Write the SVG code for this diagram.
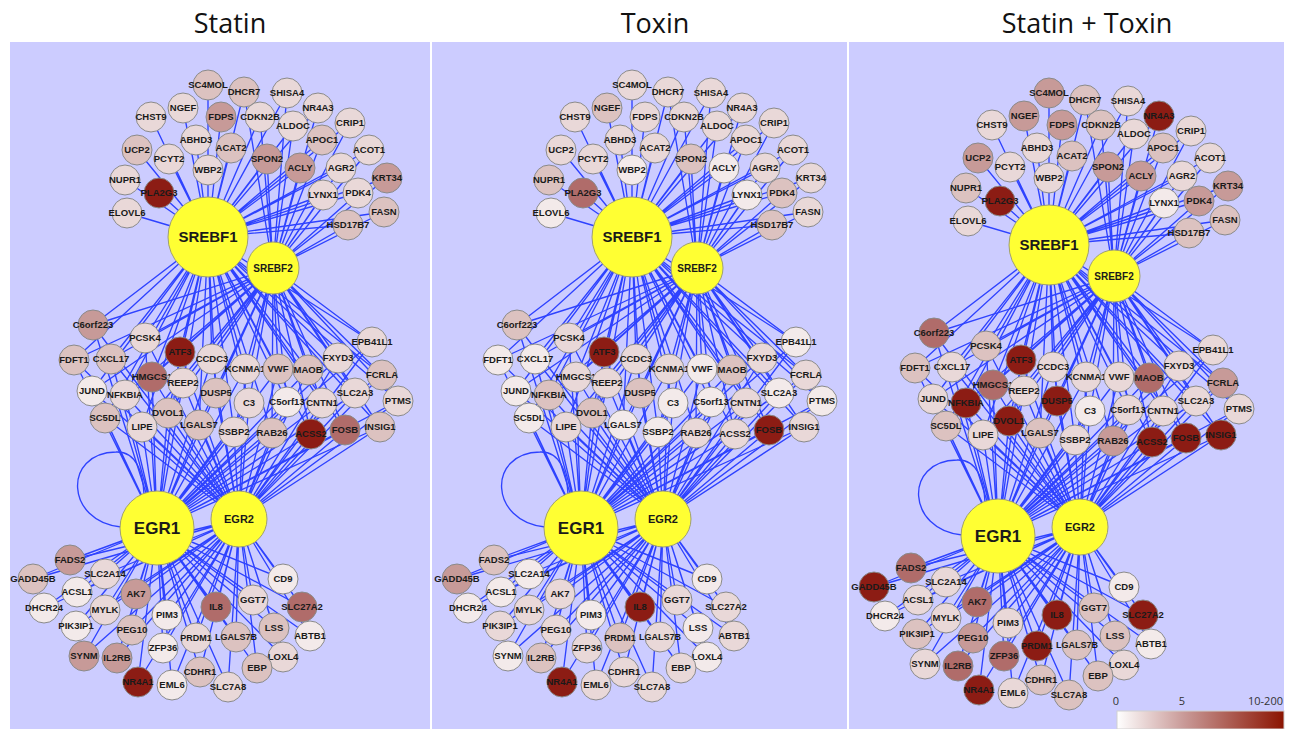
<svg xmlns="http://www.w3.org/2000/svg" xmlns:xlink="http://www.w3.org/1999/xlink" width="1294" height="729" viewBox="0 0 1294 729">
<style>
.bg{fill:#ccccff}
.ttl{font-family:"Open Sans","Noto Sans",sans-serif;font-size:27px;fill:#111;text-anchor:middle}
.nodes circle{stroke:#8a8a8a;stroke-width:1}
.nodes text{font-family:"Liberation Sans",Arial,sans-serif;font-weight:bold;font-size:9.5px;fill:#1a1a1a;text-anchor:middle}
.nodes text.sm{font-size:9px}
.c0{fill:#f3eaea}.c1{fill:#e9d8d8}.c2{fill:#dcc2c0}.c3{fill:#c79a98}.c4{fill:#b06c6a}.c5{fill:#8c1c14}
.nodes .hub{fill:#ffff33;stroke:#a0a070}
.nodes text.h14{font-size:15px}.nodes text.h10{font-size:10px}.nodes text.h16{font-size:17px}.nodes text.h11{font-size:11px}
.lgt{font-family:"Open Sans","Noto Sans",sans-serif;font-size:11px;fill:#333}
</style>
<defs>
<linearGradient id="lg" x1="0" y1="0" x2="1" y2="0">
<stop offset="0" stop-color="#ffffff"/><stop offset="0.4" stop-color="#c99a98"/><stop offset="1" stop-color="#8b1400"/>
</linearGradient>
<g id="edgeset" fill="none" stroke="#2e42ff" stroke-width="1.35">
<path d="M208 237L208 85M208 237L244 92M208 237L287 93M208 237L318 108M208 237L350 123M208 237L369 150M208 237L387 178M208 237L384 212M208 237L348 225M208 237L358 193M208 237L323 195M208 237L341 168M208 237L300 168M208 237L322 140M208 237L293 126M208 237L260 117M208 237L221 117M208 237L183 108M208 237L151 117M208 237L196 140M208 237L231 148M208 237L267 159M208 237L208 170M208 237L169 159M208 237L137 150M208 237L125 180M208 237L159 193M208 237L127 213"/>
<path d="M208 237L93 325M208 237L145 338M208 237L180 352M208 237L212 359M208 237L74 360M208 237L111 359M208 237L152 377M208 237L183 383M208 237L245 369M208 237L278 369M208 237L308 370M208 237L338 358M208 237L372 342M208 237L382 375M208 237L355 393M208 237L398 401M208 237L322 403M208 237L287 402M208 237L249 403M208 237L216 393M208 237L92 391M208 237L125 395M208 237L168 413M208 237L105 418M208 237L142 427M208 237L199 425M208 237L234 432M208 237L272 433M208 237L311 434M208 237L345 430M208 237L380 427"/>
<path d="M273 268L244 92M273 268L287 93M273 268L318 108M273 268L350 123M273 268L369 150M273 268L387 178M273 268L384 212M273 268L348 225M273 268L358 193M273 268L323 195M273 268L341 168M273 268L300 168M273 268L322 140M273 268L293 126M273 268L260 117M273 268L267 159"/>
<path d="M273 268L93 325M273 268L145 338M273 268L180 352M273 268L212 359M273 268L74 360M273 268L111 359M273 268L152 377M273 268L183 383M273 268L245 369M273 268L278 369M273 268L308 370M273 268L338 358M273 268L372 342M273 268L382 375M273 268L355 393M273 268L398 401M273 268L322 403M273 268L287 402M273 268L249 403M273 268L216 393M273 268L92 391M273 268L125 395M273 268L168 413M273 268L105 418M273 268L142 427M273 268L199 425M273 268L234 432M273 268L272 433M273 268L311 434M273 268L345 430M273 268L380 427"/>
<path d="M157 528L93 325M157 528L145 338M157 528L180 352M157 528L212 359M157 528L74 360M157 528L111 359M157 528L152 377M157 528L183 383M157 528L245 369M157 528L278 369M157 528L308 370M157 528L338 358M157 528L372 342M157 528L382 375M157 528L355 393M157 528L398 401M157 528L322 403M157 528L287 402M157 528L249 403M157 528L216 393M157 528L92 391M157 528L125 395M157 528L168 413M157 528L105 418M157 528L142 427M157 528L199 425M157 528L234 432M157 528L272 433M157 528L311 434M157 528L345 430M157 528L380 427"/>
<path d="M239 519L93 325M239 519L145 338M239 519L180 352M239 519L212 359M239 519L74 360M239 519L111 359M239 519L152 377M239 519L183 383M239 519L245 369M239 519L278 369M239 519L308 370M239 519L338 358M239 519L372 342M239 519L382 375M239 519L355 393M239 519L398 401M239 519L322 403M239 519L287 402M239 519L249 403M239 519L216 393M239 519L92 391M239 519L125 395M239 519L168 413M239 519L105 418M239 519L142 427M239 519L199 425M239 519L234 432M239 519L272 433M239 519L311 434M239 519L345 430M239 519L380 427"/>
<path d="M157 528L70 560M157 528L33 579M157 528L105 574M157 528L77 592M157 528L44 608M157 528L105 610M157 528L136 594M157 528L76 626M157 528L132 630M157 528L167 615M157 528L216 607M157 528L253 600M157 528L283 579M157 528L302 607M157 528L274 628M157 528L310 636M157 528L236 637M157 528L196 638M157 528L163 648M157 528L84 656M157 528L117 658M157 528L283 657M157 528L257 668M157 528L200 672M157 528L172 685M157 528L138 682M157 528L228 687"/>
<path d="M239 519L70 560M239 519L33 579M239 519L105 574M239 519L77 592M239 519L44 608M239 519L105 610M239 519L136 594M239 519L76 626M239 519L132 630M239 519L167 615M239 519L216 607M239 519L253 600M239 519L283 579M239 519L302 607M239 519L274 628M239 519L310 636M239 519L236 637M239 519L196 638M239 519L163 648M239 519L84 656M239 519L117 658M239 519L283 657M239 519L257 668M239 519L200 672M239 519L172 685M239 519L138 682M239 519L228 687"/>
<path d="M121 527C66 522 62 453 116 452C136 451 143 472 144 494"/>
</g>
</defs>
<rect width="1294" height="729" fill="#ffffff"/>
<rect class="bg" x="10" y="42" width="420" height="687"/>
<rect class="bg" x="432" y="42" width="415" height="687"/>
<rect class="bg" x="849" y="42" width="435" height="687"/>
<text class="ttl" x="230" y="33">Statin</text>
<text class="ttl" x="655" y="33">Toxin</text>
<text class="ttl" x="1087" y="33">Statin + Toxin</text>

<g id="statin">
<g id="st-connectors"><use href="#edgeset" xlink:href="#edgeset"/></g>
<g class="nodes">
<g id="st-SC4MOL" transform="translate(208 85)"><circle r="15" class="c2"/><text y="3">SC4MOL</text></g>
<g id="st-DHCR7" transform="translate(244 92)"><circle r="15" class="c2"/><text y="3">DHCR7</text></g>
<g id="st-SHISA4" transform="translate(287 93)"><circle r="15" class="c1"/><text y="3">SHISA4</text></g>
<g id="st-NR4A3" transform="translate(318 108)"><circle r="15" class="c1"/><text y="3">NR4A3</text></g>
<g id="st-CRIP1" transform="translate(350 123)"><circle r="15" class="c1"/><text y="3">CRIP1</text></g>
<g id="st-ACOT1" transform="translate(369 150)"><circle r="15" class="c1"/><text y="3">ACOT1</text></g>
<g id="st-KRT34" transform="translate(387 178)"><circle r="15" class="c3"/><text y="3">KRT34</text></g>
<g id="st-FASN" transform="translate(384 212)"><circle r="15" class="c2"/><text y="3">FASN</text></g>
<g id="st-HSD17B7" transform="translate(348 225)"><circle r="15" class="c2"/><text y="3">HSD17B7</text></g>
<g id="st-PDK4" transform="translate(358 193)"><circle r="15" class="c1"/><text y="3">PDK4</text></g>
<g id="st-LYNX1" transform="translate(323 195)"><circle r="15" class="c1"/><text y="3">LYNX1</text></g>
<g id="st-AGR2" transform="translate(341 168)"><circle r="15" class="c1"/><text y="3">AGR2</text></g>
<g id="st-ACLY" transform="translate(300 168)"><circle r="15" class="c3"/><text y="3">ACLY</text></g>
<g id="st-APOC1" transform="translate(322 140)"><circle r="15" class="c2"/><text y="3">APOC1</text></g>
<g id="st-ALDOC" transform="translate(293 126)"><circle r="15" class="c1"/><text y="3">ALDOC</text></g>
<g id="st-CDKN2B" transform="translate(260 117)"><circle r="15" class="c1"/><text y="3">CDKN2B</text></g>
<g id="st-FDPS" transform="translate(221 117)"><circle r="15" class="c3"/><text y="3">FDPS</text></g>
<g id="st-NGEF" transform="translate(183 108)"><circle r="15" class="c1"/><text y="3">NGEF</text></g>
<g id="st-CHST9" transform="translate(151 117)"><circle r="15" class="c1"/><text y="3">CHST9</text></g>
<g id="st-ABHD3" transform="translate(196 140)"><circle r="15" class="c1"/><text y="3">ABHD3</text></g>
<g id="st-ACAT2" transform="translate(231 148)"><circle r="15" class="c2"/><text y="3">ACAT2</text></g>
<g id="st-SPON2" transform="translate(267 159)"><circle r="15" class="c3"/><text y="3">SPON2</text></g>
<g id="st-WBP2" transform="translate(208 170)"><circle r="15" class="c1"/><text y="3">WBP2</text></g>
<g id="st-PCYT2" transform="translate(169 159)"><circle r="15" class="c1"/><text y="3">PCYT2</text></g>
<g id="st-UCP2" transform="translate(137 150)"><circle r="15" class="c2"/><text y="3">UCP2</text></g>
<g id="st-NUPR1" transform="translate(125 180)"><circle r="15" class="c1"/><text y="3">NUPR1</text></g>
<g id="st-PLA2G3" transform="translate(159 193)"><circle r="15" class="c5"/><text y="3">PLA2G3</text></g>
<g id="st-ELOVL6" transform="translate(127 213)"><circle r="15" class="c1"/><text y="3">ELOVL6</text></g>
<g id="st-C6orf223" transform="translate(93 325)"><circle r="15" class="c3"/><text y="3">C6orf223</text></g>
<g id="st-PCSK4" transform="translate(145 338)"><circle r="15" class="c1"/><text y="3">PCSK4</text></g>
<g id="st-ATF3" transform="translate(180 352)"><circle r="15" class="c5"/><text y="3">ATF3</text></g>
<g id="st-CCDC3" transform="translate(212 359)"><circle r="15" class="c1"/><text y="3">CCDC3</text></g>
<g id="st-FDFT1" transform="translate(74 360)"><circle r="15" class="c2"/><text y="3">FDFT1</text></g>
<g id="st-CXCL17" transform="translate(111 359)"><circle r="15" class="c2"/><text y="3">CXCL17</text></g>
<g id="st-HMGCS1" transform="translate(152 377)"><circle r="15" class="c4"/><text y="3">HMGCS1</text></g>
<g id="st-REEP2" transform="translate(183 383)"><circle r="15" class="c1"/><text y="3">REEP2</text></g>
<g id="st-KCNMA1" transform="translate(245 369)"><circle r="15" class="c1"/><text y="3">KCNMA1</text></g>
<g id="st-VWF" transform="translate(278 369)"><circle r="15" class="c2"/><text y="3">VWF</text></g>
<g id="st-MAOB" transform="translate(308 370)"><circle r="15" class="c2"/><text y="3">MAOB</text></g>
<g id="st-FXYD3" transform="translate(338 358)"><circle r="15" class="c1"/><text y="3">FXYD3</text></g>
<g id="st-EPB41L1" transform="translate(372 342)"><circle r="15" class="c1"/><text y="3">EPB41L1</text></g>
<g id="st-FCRLA" transform="translate(382 375)"><circle r="15" class="c2"/><text y="3">FCRLA</text></g>
<g id="st-SLC2A3" transform="translate(355 393)"><circle r="15" class="c1"/><text y="3">SLC2A3</text></g>
<g id="st-PTMS" transform="translate(398 401)"><circle r="15" class="c1"/><text y="3">PTMS</text></g>
<g id="st-CNTN1" transform="translate(322 403)"><circle r="15" class="c1"/><text y="3">CNTN1</text></g>
<g id="st-C5orf13" transform="translate(287 402)"><circle r="15" class="c0"/><text y="3">C5orf13</text></g>
<g id="st-C3" transform="translate(249 403)"><circle r="15" class="c1"/><text y="3">C3</text></g>
<g id="st-DUSP5" transform="translate(216 393)"><circle r="15" class="c2"/><text y="3">DUSP5</text></g>
<g id="st-JUND" transform="translate(92 391)"><circle r="15" class="c0"/><text y="3">JUND</text></g>
<g id="st-NFKBIA" transform="translate(125 395)"><circle r="15" class="c1"/><text y="3">NFKBIA</text></g>
<g id="st-DVOL1" transform="translate(168 413)"><circle r="15" class="c2"/><text y="3">DVOL1</text></g>
<g id="st-SC5DL" transform="translate(105 418)"><circle r="15" class="c2"/><text y="3">SC5DL</text></g>
<g id="st-LIPE" transform="translate(142 427)"><circle r="15" class="c1"/><text y="3">LIPE</text></g>
<g id="st-LGALS7" transform="translate(199 425)"><circle r="15" class="c2"/><text y="3">LGALS7</text></g>
<g id="st-SSBP2" transform="translate(234 432)"><circle r="15" class="c1"/><text y="3">SSBP2</text></g>
<g id="st-RAB26" transform="translate(272 433)"><circle r="15" class="c2"/><text y="3">RAB26</text></g>
<g id="st-ACSS2" transform="translate(311 434)"><circle r="15" class="c5"/><text y="3">ACSS2</text></g>
<g id="st-FOSB" transform="translate(345 430)"><circle r="15" class="c4"/><text y="3">FOSB</text></g>
<g id="st-INSIG1" transform="translate(380 427)"><circle r="15" class="c2"/><text y="3">INSIG1</text></g>
<g id="st-FADS2" transform="translate(70 560)"><circle r="15" class="c3"/><text y="3">FADS2</text></g>
<g id="st-GADD45B" transform="translate(33 579)"><circle r="15" class="c2"/><text y="3">GADD45B</text></g>
<g id="st-SLC2A14" transform="translate(105 574)"><circle r="15" class="c1"/><text y="3">SLC2A14</text></g>
<g id="st-ACSL1" transform="translate(77 592)"><circle r="15" class="c0"/><text y="3">ACSL1</text></g>
<g id="st-DHCR24" transform="translate(44 608)"><circle r="15" class="c0"/><text y="3">DHCR24</text></g>
<g id="st-MYLK" transform="translate(105 610)"><circle r="15" class="c1"/><text y="3">MYLK</text></g>
<g id="st-AK7" transform="translate(136 594)"><circle r="15" class="c3"/><text y="3">AK7</text></g>
<g id="st-PIK3IP1" transform="translate(76 626)"><circle r="15" class="c0"/><text y="3">PIK3IP1</text></g>
<g id="st-PEG10" transform="translate(132 630)"><circle r="15" class="c2"/><text y="3">PEG10</text></g>
<g id="st-PIM3" transform="translate(167 615)"><circle r="15" class="c0"/><text y="3">PIM3</text></g>
<g id="st-IL8" transform="translate(216 607)"><circle r="15" class="c4"/><text y="3">IL8</text></g>
<g id="st-GGT7" transform="translate(253 600)"><circle r="15" class="c1"/><text y="3">GGT7</text></g>
<g id="st-CD9" transform="translate(283 579)"><circle r="15" class="c0"/><text y="3">CD9</text></g>
<g id="st-SLC27A2" transform="translate(302 607)"><circle r="15" class="c4"/><text y="3">SLC27A2</text></g>
<g id="st-LSS" transform="translate(274 628)"><circle r="15" class="c2"/><text y="3">LSS</text></g>
<g id="st-ABTB1" transform="translate(310 636)"><circle r="15" class="c0"/><text y="3">ABTB1</text></g>
<g id="st-LGALS7B" transform="translate(236 637)"><circle r="15" class="c2"/><text class="sm" y="3">LGALS7B</text></g>
<g id="st-PRDM1" transform="translate(196 638)"><circle r="15" class="c1"/><text class="sm" y="3">PRDM1</text></g>
<g id="st-ZFP36" transform="translate(163 648)"><circle r="15" class="c0"/><text y="3">ZFP36</text></g>
<g id="st-SYNM" transform="translate(84 656)"><circle r="15" class="c3"/><text y="3">SYNM</text></g>
<g id="st-IL2RB" transform="translate(117 658)"><circle r="15" class="c3"/><text y="3">IL2RB</text></g>
<g id="st-LOXL4" transform="translate(283 657)"><circle r="15" class="c1"/><text y="3">LOXL4</text></g>
<g id="st-EBP" transform="translate(257 668)"><circle r="15" class="c2"/><text y="3">EBP</text></g>
<g id="st-CDHR1" transform="translate(200 672)"><circle r="15" class="c2"/><text y="3">CDHR1</text></g>
<g id="st-EML6" transform="translate(172 685)"><circle r="15" class="c0"/><text y="3">EML6</text></g>
<g id="st-NR4A1" transform="translate(138 682)"><circle r="15" class="c5"/><text y="3">NR4A1</text></g>
<g id="st-SLC7A8" transform="translate(228 687)"><circle r="15" class="c1"/><text y="3">SLC7A8</text></g>
<g id="st-SREBF1" transform="translate(208 237)"><circle r="40" class="hub"/><text class="h14" y="5">SREBF1</text></g>
<g id="st-SREBF2" transform="translate(273 268)"><circle r="26" class="hub"/><text class="h10" y="4">SREBF2</text></g>
<g id="st-EGR1" transform="translate(157 528)"><circle r="37" class="hub"/><text class="h16" y="6">EGR1</text></g>
<g id="st-EGR2" transform="translate(239 519)"><circle r="28" class="hub"/><text class="h11" y="4">EGR2</text></g>
</g>
</g>

<g id="toxin" transform="translate(424 0)">
<g id="tx-connectors"><use href="#edgeset" xlink:href="#edgeset"/></g>
<g class="nodes">
<g id="tx-SC4MOL" transform="translate(208 85)"><circle r="15" class="c1"/><text y="3">SC4MOL</text></g>
<g id="tx-DHCR7" transform="translate(244 92)"><circle r="15" class="c1"/><text y="3">DHCR7</text></g>
<g id="tx-SHISA4" transform="translate(287 93)"><circle r="15" class="c1"/><text y="3">SHISA4</text></g>
<g id="tx-NR4A3" transform="translate(318 108)"><circle r="15" class="c1"/><text y="3">NR4A3</text></g>
<g id="tx-CRIP1" transform="translate(350 123)"><circle r="15" class="c1"/><text y="3">CRIP1</text></g>
<g id="tx-ACOT1" transform="translate(369 150)"><circle r="15" class="c1"/><text y="3">ACOT1</text></g>
<g id="tx-KRT34" transform="translate(387 178)"><circle r="15" class="c1"/><text y="3">KRT34</text></g>
<g id="tx-FASN" transform="translate(384 212)"><circle r="15" class="c1"/><text y="3">FASN</text></g>
<g id="tx-HSD17B7" transform="translate(348 225)"><circle r="15" class="c2"/><text y="3">HSD17B7</text></g>
<g id="tx-PDK4" transform="translate(358 193)"><circle r="15" class="c2"/><text y="3">PDK4</text></g>
<g id="tx-LYNX1" transform="translate(323 195)"><circle r="15" class="c0"/><text y="3">LYNX1</text></g>
<g id="tx-AGR2" transform="translate(341 168)"><circle r="15" class="c1"/><text y="3">AGR2</text></g>
<g id="tx-ACLY" transform="translate(300 168)"><circle r="15" class="c0"/><text y="3">ACLY</text></g>
<g id="tx-APOC1" transform="translate(322 140)"><circle r="15" class="c1"/><text y="3">APOC1</text></g>
<g id="tx-ALDOC" transform="translate(293 126)"><circle r="15" class="c1"/><text y="3">ALDOC</text></g>
<g id="tx-CDKN2B" transform="translate(260 117)"><circle r="15" class="c1"/><text y="3">CDKN2B</text></g>
<g id="tx-FDPS" transform="translate(221 117)"><circle r="15" class="c1"/><text y="3">FDPS</text></g>
<g id="tx-NGEF" transform="translate(183 108)"><circle r="15" class="c2"/><text y="3">NGEF</text></g>
<g id="tx-CHST9" transform="translate(151 117)"><circle r="15" class="c1"/><text y="3">CHST9</text></g>
<g id="tx-ABHD3" transform="translate(196 140)"><circle r="15" class="c1"/><text y="3">ABHD3</text></g>
<g id="tx-ACAT2" transform="translate(231 148)"><circle r="15" class="c1"/><text y="3">ACAT2</text></g>
<g id="tx-SPON2" transform="translate(267 159)"><circle r="15" class="c2"/><text y="3">SPON2</text></g>
<g id="tx-WBP2" transform="translate(208 170)"><circle r="15" class="c0"/><text y="3">WBP2</text></g>
<g id="tx-PCYT2" transform="translate(169 159)"><circle r="15" class="c1"/><text y="3">PCYT2</text></g>
<g id="tx-UCP2" transform="translate(137 150)"><circle r="15" class="c1"/><text y="3">UCP2</text></g>
<g id="tx-NUPR1" transform="translate(125 180)"><circle r="15" class="c2"/><text y="3">NUPR1</text></g>
<g id="tx-PLA2G3" transform="translate(159 193)"><circle r="15" class="c4"/><text y="3">PLA2G3</text></g>
<g id="tx-ELOVL6" transform="translate(127 213)"><circle r="15" class="c0"/><text y="3">ELOVL6</text></g>
<g id="tx-C6orf223" transform="translate(93 325)"><circle r="15" class="c2"/><text y="3">C6orf223</text></g>
<g id="tx-PCSK4" transform="translate(145 338)"><circle r="15" class="c1"/><text y="3">PCSK4</text></g>
<g id="tx-ATF3" transform="translate(180 352)"><circle r="15" class="c5"/><text y="3">ATF3</text></g>
<g id="tx-CCDC3" transform="translate(212 359)"><circle r="15" class="c1"/><text y="3">CCDC3</text></g>
<g id="tx-FDFT1" transform="translate(74 360)"><circle r="15" class="c0"/><text y="3">FDFT1</text></g>
<g id="tx-CXCL17" transform="translate(111 359)"><circle r="15" class="c0"/><text y="3">CXCL17</text></g>
<g id="tx-HMGCS1" transform="translate(152 377)"><circle r="15" class="c1"/><text y="3">HMGCS1</text></g>
<g id="tx-REEP2" transform="translate(183 383)"><circle r="15" class="c1"/><text y="3">REEP2</text></g>
<g id="tx-KCNMA1" transform="translate(245 369)"><circle r="15" class="c1"/><text y="3">KCNMA1</text></g>
<g id="tx-VWF" transform="translate(278 369)"><circle r="15" class="c0"/><text y="3">VWF</text></g>
<g id="tx-MAOB" transform="translate(308 370)"><circle r="15" class="c2"/><text y="3">MAOB</text></g>
<g id="tx-FXYD3" transform="translate(338 358)"><circle r="15" class="c1"/><text y="3">FXYD3</text></g>
<g id="tx-EPB41L1" transform="translate(372 342)"><circle r="15" class="c0"/><text y="3">EPB41L1</text></g>
<g id="tx-FCRLA" transform="translate(382 375)"><circle r="15" class="c1"/><text y="3">FCRLA</text></g>
<g id="tx-SLC2A3" transform="translate(355 393)"><circle r="15" class="c0"/><text y="3">SLC2A3</text></g>
<g id="tx-PTMS" transform="translate(398 401)"><circle r="15" class="c0"/><text y="3">PTMS</text></g>
<g id="tx-CNTN1" transform="translate(322 403)"><circle r="15" class="c1"/><text y="3">CNTN1</text></g>
<g id="tx-C5orf13" transform="translate(287 402)"><circle r="15" class="c0"/><text y="3">C5orf13</text></g>
<g id="tx-C3" transform="translate(249 403)"><circle r="15" class="c0"/><text y="3">C3</text></g>
<g id="tx-DUSP5" transform="translate(216 393)"><circle r="15" class="c2"/><text y="3">DUSP5</text></g>
<g id="tx-JUND" transform="translate(92 391)"><circle r="15" class="c0"/><text y="3">JUND</text></g>
<g id="tx-NFKBIA" transform="translate(125 395)"><circle r="15" class="c2"/><text y="3">NFKBIA</text></g>
<g id="tx-DVOL1" transform="translate(168 413)"><circle r="15" class="c2"/><text y="3">DVOL1</text></g>
<g id="tx-SC5DL" transform="translate(105 418)"><circle r="15" class="c0"/><text y="3">SC5DL</text></g>
<g id="tx-LIPE" transform="translate(142 427)"><circle r="15" class="c1"/><text y="3">LIPE</text></g>
<g id="tx-LGALS7" transform="translate(199 425)"><circle r="15" class="c0"/><text y="3">LGALS7</text></g>
<g id="tx-SSBP2" transform="translate(234 432)"><circle r="15" class="c0"/><text y="3">SSBP2</text></g>
<g id="tx-RAB26" transform="translate(272 433)"><circle r="15" class="c1"/><text y="3">RAB26</text></g>
<g id="tx-ACSS2" transform="translate(311 434)"><circle r="15" class="c1"/><text y="3">ACSS2</text></g>
<g id="tx-FOSB" transform="translate(345 430)"><circle r="15" class="c5"/><text y="3">FOSB</text></g>
<g id="tx-INSIG1" transform="translate(380 427)"><circle r="15" class="c1"/><text y="3">INSIG1</text></g>
<g id="tx-FADS2" transform="translate(70 560)"><circle r="15" class="c2"/><text y="3">FADS2</text></g>
<g id="tx-GADD45B" transform="translate(33 579)"><circle r="15" class="c3"/><text y="3">GADD45B</text></g>
<g id="tx-SLC2A14" transform="translate(105 574)"><circle r="15" class="c0"/><text y="3">SLC2A14</text></g>
<g id="tx-ACSL1" transform="translate(77 592)"><circle r="15" class="c0"/><text y="3">ACSL1</text></g>
<g id="tx-DHCR24" transform="translate(44 608)"><circle r="15" class="c0"/><text y="3">DHCR24</text></g>
<g id="tx-MYLK" transform="translate(105 610)"><circle r="15" class="c1"/><text y="3">MYLK</text></g>
<g id="tx-AK7" transform="translate(136 594)"><circle r="15" class="c1"/><text y="3">AK7</text></g>
<g id="tx-PIK3IP1" transform="translate(76 626)"><circle r="15" class="c1"/><text y="3">PIK3IP1</text></g>
<g id="tx-PEG10" transform="translate(132 630)"><circle r="15" class="c1"/><text y="3">PEG10</text></g>
<g id="tx-PIM3" transform="translate(167 615)"><circle r="15" class="c0"/><text y="3">PIM3</text></g>
<g id="tx-IL8" transform="translate(216 607)"><circle r="15" class="c5"/><text y="3">IL8</text></g>
<g id="tx-GGT7" transform="translate(253 600)"><circle r="15" class="c1"/><text y="3">GGT7</text></g>
<g id="tx-CD9" transform="translate(283 579)"><circle r="15" class="c0"/><text y="3">CD9</text></g>
<g id="tx-SLC27A2" transform="translate(302 607)"><circle r="15" class="c1"/><text y="3">SLC27A2</text></g>
<g id="tx-LSS" transform="translate(274 628)"><circle r="15" class="c0"/><text y="3">LSS</text></g>
<g id="tx-ABTB1" transform="translate(310 636)"><circle r="15" class="c1"/><text y="3">ABTB1</text></g>
<g id="tx-LGALS7B" transform="translate(236 637)"><circle r="15" class="c1"/><text class="sm" y="3">LGALS7B</text></g>
<g id="tx-PRDM1" transform="translate(196 638)"><circle r="15" class="c2"/><text class="sm" y="3">PRDM1</text></g>
<g id="tx-ZFP36" transform="translate(163 648)"><circle r="15" class="c1"/><text y="3">ZFP36</text></g>
<g id="tx-SYNM" transform="translate(84 656)"><circle r="15" class="c0"/><text y="3">SYNM</text></g>
<g id="tx-IL2RB" transform="translate(117 658)"><circle r="15" class="c2"/><text y="3">IL2RB</text></g>
<g id="tx-LOXL4" transform="translate(283 657)"><circle r="15" class="c0"/><text y="3">LOXL4</text></g>
<g id="tx-EBP" transform="translate(257 668)"><circle r="15" class="c1"/><text y="3">EBP</text></g>
<g id="tx-CDHR1" transform="translate(200 672)"><circle r="15" class="c1"/><text y="3">CDHR1</text></g>
<g id="tx-EML6" transform="translate(172 685)"><circle r="15" class="c1"/><text y="3">EML6</text></g>
<g id="tx-NR4A1" transform="translate(138 682)"><circle r="15" class="c5"/><text y="3">NR4A1</text></g>
<g id="tx-SLC7A8" transform="translate(228 687)"><circle r="15" class="c1"/><text y="3">SLC7A8</text></g>
<g id="tx-SREBF1" transform="translate(208 237)"><circle r="40" class="hub"/><text class="h14" y="5">SREBF1</text></g>
<g id="tx-SREBF2" transform="translate(273 268)"><circle r="26" class="hub"/><text class="h10" y="4">SREBF2</text></g>
<g id="tx-EGR1" transform="translate(157 528)"><circle r="37" class="hub"/><text class="h16" y="6">EGR1</text></g>
<g id="tx-EGR2" transform="translate(239 519)"><circle r="28" class="hub"/><text class="h11" y="4">EGR2</text></g>
</g>
</g>

<g id="statin-toxin" transform="translate(841 8)">
<g id="sx-connectors"><use href="#edgeset" xlink:href="#edgeset"/></g>
<g class="nodes">
<g id="sx-SC4MOL" transform="translate(208 85)"><circle r="15" class="c3"/><text y="3">SC4MOL</text></g>
<g id="sx-DHCR7" transform="translate(244 92)"><circle r="15" class="c2"/><text y="3">DHCR7</text></g>
<g id="sx-SHISA4" transform="translate(287 93)"><circle r="15" class="c1"/><text y="3">SHISA4</text></g>
<g id="sx-NR4A3" transform="translate(318 108)"><circle r="15" class="c5"/><text y="3">NR4A3</text></g>
<g id="sx-CRIP1" transform="translate(350 123)"><circle r="15" class="c1"/><text y="3">CRIP1</text></g>
<g id="sx-ACOT1" transform="translate(369 150)"><circle r="15" class="c1"/><text y="3">ACOT1</text></g>
<g id="sx-KRT34" transform="translate(387 178)"><circle r="15" class="c3"/><text y="3">KRT34</text></g>
<g id="sx-FASN" transform="translate(384 212)"><circle r="15" class="c2"/><text y="3">FASN</text></g>
<g id="sx-HSD17B7" transform="translate(348 225)"><circle r="15" class="c2"/><text y="3">HSD17B7</text></g>
<g id="sx-PDK4" transform="translate(358 193)"><circle r="15" class="c3"/><text y="3">PDK4</text></g>
<g id="sx-LYNX1" transform="translate(323 195)"><circle r="15" class="c0"/><text y="3">LYNX1</text></g>
<g id="sx-AGR2" transform="translate(341 168)"><circle r="15" class="c1"/><text y="3">AGR2</text></g>
<g id="sx-ACLY" transform="translate(300 168)"><circle r="15" class="c3"/><text y="3">ACLY</text></g>
<g id="sx-APOC1" transform="translate(322 140)"><circle r="15" class="c2"/><text y="3">APOC1</text></g>
<g id="sx-ALDOC" transform="translate(293 126)"><circle r="15" class="c1"/><text y="3">ALDOC</text></g>
<g id="sx-CDKN2B" transform="translate(260 117)"><circle r="15" class="c2"/><text y="3">CDKN2B</text></g>
<g id="sx-FDPS" transform="translate(221 117)"><circle r="15" class="c3"/><text y="3">FDPS</text></g>
<g id="sx-NGEF" transform="translate(183 108)"><circle r="15" class="c3"/><text y="3">NGEF</text></g>
<g id="sx-CHST9" transform="translate(151 117)"><circle r="15" class="c1"/><text y="3">CHST9</text></g>
<g id="sx-ABHD3" transform="translate(196 140)"><circle r="15" class="c1"/><text y="3">ABHD3</text></g>
<g id="sx-ACAT2" transform="translate(231 148)"><circle r="15" class="c2"/><text y="3">ACAT2</text></g>
<g id="sx-SPON2" transform="translate(267 159)"><circle r="15" class="c3"/><text y="3">SPON2</text></g>
<g id="sx-WBP2" transform="translate(208 170)"><circle r="15" class="c1"/><text y="3">WBP2</text></g>
<g id="sx-PCYT2" transform="translate(169 159)"><circle r="15" class="c1"/><text y="3">PCYT2</text></g>
<g id="sx-UCP2" transform="translate(137 150)"><circle r="15" class="c3"/><text y="3">UCP2</text></g>
<g id="sx-NUPR1" transform="translate(125 180)"><circle r="15" class="c2"/><text y="3">NUPR1</text></g>
<g id="sx-PLA2G3" transform="translate(159 193)"><circle r="15" class="c5"/><text y="3">PLA2G3</text></g>
<g id="sx-ELOVL6" transform="translate(127 213)"><circle r="15" class="c1"/><text y="3">ELOVL6</text></g>
<g id="sx-C6orf223" transform="translate(93 325)"><circle r="15" class="c4"/><text y="3">C6orf223</text></g>
<g id="sx-PCSK4" transform="translate(145 338)"><circle r="15" class="c2"/><text y="3">PCSK4</text></g>
<g id="sx-ATF3" transform="translate(180 352)"><circle r="15" class="c5"/><text y="3">ATF3</text></g>
<g id="sx-CCDC3" transform="translate(212 359)"><circle r="15" class="c1"/><text y="3">CCDC3</text></g>
<g id="sx-FDFT1" transform="translate(74 360)"><circle r="15" class="c2"/><text y="3">FDFT1</text></g>
<g id="sx-CXCL17" transform="translate(111 359)"><circle r="15" class="c1"/><text y="3">CXCL17</text></g>
<g id="sx-HMGCS1" transform="translate(152 377)"><circle r="15" class="c4"/><text y="3">HMGCS1</text></g>
<g id="sx-REEP2" transform="translate(183 383)"><circle r="15" class="c1"/><text y="3">REEP2</text></g>
<g id="sx-KCNMA1" transform="translate(245 369)"><circle r="15" class="c1"/><text y="3">KCNMA1</text></g>
<g id="sx-VWF" transform="translate(278 369)"><circle r="15" class="c1"/><text y="3">VWF</text></g>
<g id="sx-MAOB" transform="translate(308 370)"><circle r="15" class="c4"/><text y="3">MAOB</text></g>
<g id="sx-FXYD3" transform="translate(338 358)"><circle r="15" class="c1"/><text y="3">FXYD3</text></g>
<g id="sx-EPB41L1" transform="translate(372 342)"><circle r="15" class="c1"/><text y="3">EPB41L1</text></g>
<g id="sx-FCRLA" transform="translate(382 375)"><circle r="15" class="c3"/><text y="3">FCRLA</text></g>
<g id="sx-SLC2A3" transform="translate(355 393)"><circle r="15" class="c1"/><text y="3">SLC2A3</text></g>
<g id="sx-PTMS" transform="translate(398 401)"><circle r="15" class="c1"/><text y="3">PTMS</text></g>
<g id="sx-CNTN1" transform="translate(322 403)"><circle r="15" class="c1"/><text y="3">CNTN1</text></g>
<g id="sx-C5orf13" transform="translate(287 402)"><circle r="15" class="c1"/><text y="3">C5orf13</text></g>
<g id="sx-C3" transform="translate(249 403)"><circle r="15" class="c0"/><text y="3">C3</text></g>
<g id="sx-DUSP5" transform="translate(216 393)"><circle r="15" class="c5"/><text y="3">DUSP5</text></g>
<g id="sx-JUND" transform="translate(92 391)"><circle r="15" class="c1"/><text y="3">JUND</text></g>
<g id="sx-NFKBIA" transform="translate(125 395)"><circle r="15" class="c5"/><text y="3">NFKBIA</text></g>
<g id="sx-DVOL1" transform="translate(168 413)"><circle r="15" class="c5"/><text y="3">DVOL1</text></g>
<g id="sx-SC5DL" transform="translate(105 418)"><circle r="15" class="c2"/><text y="3">SC5DL</text></g>
<g id="sx-LIPE" transform="translate(142 427)"><circle r="15" class="c1"/><text y="3">LIPE</text></g>
<g id="sx-LGALS7" transform="translate(199 425)"><circle r="15" class="c2"/><text y="3">LGALS7</text></g>
<g id="sx-SSBP2" transform="translate(234 432)"><circle r="15" class="c1"/><text y="3">SSBP2</text></g>
<g id="sx-RAB26" transform="translate(272 433)"><circle r="15" class="c3"/><text y="3">RAB26</text></g>
<g id="sx-ACSS2" transform="translate(311 434)"><circle r="15" class="c5"/><text y="3">ACSS2</text></g>
<g id="sx-FOSB" transform="translate(345 430)"><circle r="15" class="c5"/><text y="3">FOSB</text></g>
<g id="sx-INSIG1" transform="translate(380 427)"><circle r="15" class="c5"/><text y="3">INSIG1</text></g>
<g id="sx-FADS2" transform="translate(70 560)"><circle r="15" class="c4"/><text y="3">FADS2</text></g>
<g id="sx-GADD45B" transform="translate(33 579)"><circle r="15" class="c5"/><text y="3">GADD45B</text></g>
<g id="sx-SLC2A14" transform="translate(105 574)"><circle r="15" class="c1"/><text y="3">SLC2A14</text></g>
<g id="sx-ACSL1" transform="translate(77 592)"><circle r="15" class="c1"/><text y="3">ACSL1</text></g>
<g id="sx-DHCR24" transform="translate(44 608)"><circle r="15" class="c0"/><text y="3">DHCR24</text></g>
<g id="sx-MYLK" transform="translate(105 610)"><circle r="15" class="c1"/><text y="3">MYLK</text></g>
<g id="sx-AK7" transform="translate(136 594)"><circle r="15" class="c4"/><text y="3">AK7</text></g>
<g id="sx-PIK3IP1" transform="translate(76 626)"><circle r="15" class="c2"/><text y="3">PIK3IP1</text></g>
<g id="sx-PEG10" transform="translate(132 630)"><circle r="15" class="c3"/><text y="3">PEG10</text></g>
<g id="sx-PIM3" transform="translate(167 615)"><circle r="15" class="c1"/><text y="3">PIM3</text></g>
<g id="sx-IL8" transform="translate(216 607)"><circle r="15" class="c5"/><text y="3">IL8</text></g>
<g id="sx-GGT7" transform="translate(253 600)"><circle r="15" class="c2"/><text y="3">GGT7</text></g>
<g id="sx-CD9" transform="translate(283 579)"><circle r="15" class="c0"/><text y="3">CD9</text></g>
<g id="sx-SLC27A2" transform="translate(302 607)"><circle r="15" class="c5"/><text y="3">SLC27A2</text></g>
<g id="sx-LSS" transform="translate(274 628)"><circle r="15" class="c2"/><text y="3">LSS</text></g>
<g id="sx-ABTB1" transform="translate(310 636)"><circle r="15" class="c0"/><text y="3">ABTB1</text></g>
<g id="sx-LGALS7B" transform="translate(236 637)"><circle r="15" class="c2"/><text class="sm" y="3">LGALS7B</text></g>
<g id="sx-PRDM1" transform="translate(196 638)"><circle r="15" class="c5"/><text class="sm" y="3">PRDM1</text></g>
<g id="sx-ZFP36" transform="translate(163 648)"><circle r="15" class="c4"/><text y="3">ZFP36</text></g>
<g id="sx-SYNM" transform="translate(84 656)"><circle r="15" class="c1"/><text y="3">SYNM</text></g>
<g id="sx-IL2RB" transform="translate(117 658)"><circle r="15" class="c4"/><text y="3">IL2RB</text></g>
<g id="sx-LOXL4" transform="translate(283 657)"><circle r="15" class="c1"/><text y="3">LOXL4</text></g>
<g id="sx-EBP" transform="translate(257 668)"><circle r="15" class="c2"/><text y="3">EBP</text></g>
<g id="sx-CDHR1" transform="translate(200 672)"><circle r="15" class="c2"/><text y="3">CDHR1</text></g>
<g id="sx-EML6" transform="translate(172 685)"><circle r="15" class="c1"/><text y="3">EML6</text></g>
<g id="sx-NR4A1" transform="translate(138 682)"><circle r="15" class="c5"/><text y="3">NR4A1</text></g>
<g id="sx-SLC7A8" transform="translate(228 687)"><circle r="15" class="c2"/><text y="3">SLC7A8</text></g>
<g id="sx-SREBF1" transform="translate(208 237)"><circle r="40" class="hub"/><text class="h14" y="5">SREBF1</text></g>
<g id="sx-SREBF2" transform="translate(273 268)"><circle r="26" class="hub"/><text class="h10" y="4">SREBF2</text></g>
<g id="sx-EGR1" transform="translate(157 528)"><circle r="37" class="hub"/><text class="h16" y="6">EGR1</text></g>
<g id="sx-EGR2" transform="translate(239 519)"><circle r="28" class="hub"/><text class="h11" y="4">EGR2</text></g>
</g>
</g>

<g id="legend">
<rect x="1117" y="711" width="167" height="18" fill="url(#lg)" stroke="#d0d0d0" stroke-width="1"/>
<text class="lgt" x="1116" y="705" text-anchor="middle">0</text>
<text class="lgt" x="1182" y="705" text-anchor="middle">5</text>
<text class="lgt" x="1283" y="705" text-anchor="end">10-200</text>
</g>
</svg>
